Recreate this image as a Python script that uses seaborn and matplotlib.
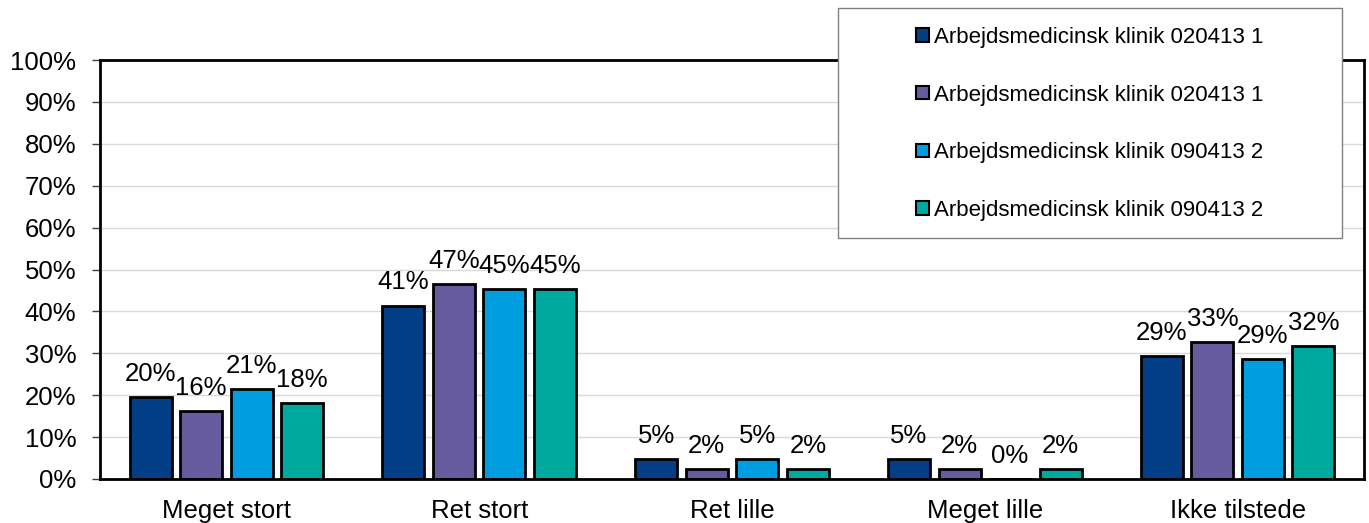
import matplotlib
matplotlib.use("Agg")
import matplotlib.pyplot as plt
import matplotlib.patches as mpatches
from matplotlib.ticker import PercentFormatter
import pandas as pd
import seaborn as sns

categories = ["Meget stort", "Ret stort", "Ret lille", "Meget lille", "Ikke tilstede"]
series_keys = ["s1", "s2", "s3", "s4"]
series_labels = [
    "Arbejdsmedicinsk klinik 020413 1",
    "Arbejdsmedicinsk klinik 020413 1",
    "Arbejdsmedicinsk klinik 090413 2",
    "Arbejdsmedicinsk klinik 090413 2",
]
colors = ["#033f87", "#675ba0", "#009ee0", "#00a99d"]

vals_s1 = [0.196, 0.414, 0.048, 0.048, 0.293]
vals_s2 = [0.163, 0.466, 0.024, 0.024, 0.326]
vals_s3 = [0.214, 0.453, 0.048, 0.0, 0.286]
vals_s4 = [0.182, 0.453, 0.024, 0.024, 0.317]

sns.set_theme(style="whitegrid")
plt.rcParams["font.family"] = ["Liberation Sans", "DejaVu Sans"]

# --- long table for seaborn ---
rows = []
for key, vals in zip(series_keys, [vals_s1, vals_s2, vals_s3, vals_s4]):
    for cat, v in zip(categories, vals):
        rows.append({"Kategori": cat, "Serie": key, "Andel": v})
df = pd.DataFrame(rows)

W, H = 1369, 523
fig = plt.figure(figsize=(W / 100, H / 100), dpi=100)
ax = fig.add_axes([100 / W, 1 - 479 / H, 1264 / W, 419 / H])

sns.barplot(
    data=df, x="Kategori", y="Andel", hue="Serie",
    order=categories, hue_order=series_keys,
    palette=colors, width=0.8, gap=0.17,
    edgecolor="black", linewidth=2, saturation=1,
    legend=False, ax=ax,
)

for cont in ax.containers:
    ax.bar_label(cont, labels=[f"{b.get_height() * 100:.0f}%" for b in cont],
                 padding=8, fontsize=18.5, color="black")

ax.set_ylim(0, 1.0)
ax.set_xlim(-0.5, 4.5)
ax.set_yticks([i / 10 for i in range(11)])
ax.yaxis.set_major_formatter(PercentFormatter(1.0, decimals=0))
ax.set_xlabel("")
ax.set_ylabel("")
ax.grid(False)
ax.yaxis.grid(True, color="#d9d9d9", linewidth=1)
ax.set_axisbelow(True)
ax.tick_params(axis="y", left=True, length=6, width=1, color="#404040",
               pad=11, labelsize=18.5, labelcolor="black")
ax.tick_params(axis="x", bottom=False, length=0, pad=14.5,
               labelsize=18.5, labelcolor="black")
for sp in ax.spines.values():
    sp.set_color("black")
    sp.set_linewidth(2)

# --- legend box ---
box = mpatches.Rectangle((838 / W, 1 - 238 / H), 504 / W, 230 / H,
                         transform=fig.transFigure, facecolor="white",
                         edgecolor="#808080", linewidth=1, zorder=3)
fig.add_artist(box)
handles = [mpatches.Rectangle((0, 0), 1, 1, facecolor=c, edgecolor="black", linewidth=1.5)
           for c in colors]
leg = fig.legend(handles, series_labels, loc="center",
                 bbox_to_anchor=(1090 / W, 1 - 124 / H),
                 frameon=False, fontsize=16, labelspacing=1.65,
                 handlelength=0.55, handleheight=0.55, handletextpad=0.25,
                 labelcolor="black")
leg.set_zorder(4)

fig.savefig("out.png", dpi=100)
